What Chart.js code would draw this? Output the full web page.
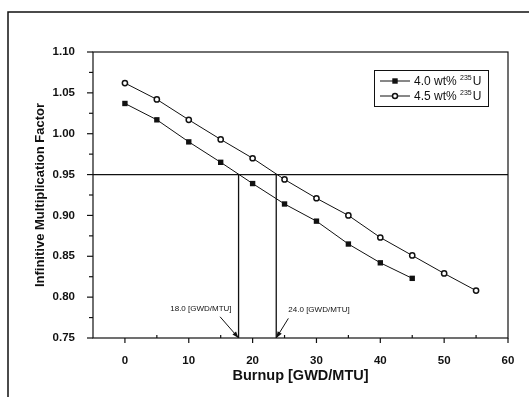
<!DOCTYPE html>
<html>
<head>
<meta charset="utf-8">
<script src="https://cdn.jsdelivr.net/npm/chart.js@4.4.1/dist/chart.umd.min.js"></script>
<style>
html, body { margin: 0; padding: 0; background: #fff; }
</style>
</head>
<body>
<canvas id="graf" width="529" height="397"></canvas>
<script>
let burnup40 = [0, 5, 10, 15, 20, 25, 30, 35, 40, 45]
let kinf40 = [1.037, 1.017, 0.990, 0.965, 0.939, 0.914, 0.893, 0.865, 0.842, 0.823]
let burnup45 = [0, 5, 10, 15, 20, 25, 30, 35, 40, 45, 50, 55]
let kinf45 = [1.062, 1.042, 1.017, 0.993, 0.970, 0.944, 0.921, 0.900, 0.873, 0.851, 0.829, 0.808]
let xTicks = [0, 10, 20, 30, 40, 50, 60]
let yTicks = [0.75, 0.80, 0.85, 0.90, 0.95, 1.00, 1.05, 1.10]
let limiteK = 0.95
let cortes = [17.8, 23.7]
let rotulos = ['18.0 [GWD/MTU]', '24.0 [GWD/MTU]']
let series = ['4.0 wt% ', '4.5 wt% ']

const preto = '#111'
const fonte = 'Arial, "Liberation Sans", sans-serif'

function pontos(xs, ys) {
    return xs.map((x, i) => ({ x: x, y: ys[i] }))
}

// moldura, ticks, setas e legenda desenhados à mão
const extras = {
    id: 'extras',
    afterDraw(chart) {
        const ctx = chart.ctx
        const xs = chart.scales.x
        const ys = chart.scales.y
        const a = chart.chartArea
        ctx.save()
        ctx.strokeStyle = preto
        ctx.fillStyle = preto

        // moldura externa
        ctx.lineWidth = 1.5
        ctx.beginPath()
        ctx.moveTo(8, 397)
        ctx.lineTo(8, 12)
        ctx.lineTo(529, 12)
        ctx.stroke()

        // caixa do gráfico
        ctx.lineWidth = 1.2
        ctx.strokeRect(a.left, a.top, a.right - a.left, a.bottom - a.top)

        // ticks x
        ctx.lineWidth = 1.2
        for (let v = 0; v <= 60; v += 5) {
            const px = xs.getPixelForValue(v)
            ctx.beginPath()
            if (v % 10 === 0) {
                ctx.moveTo(px, a.bottom)
                ctx.lineTo(px, a.bottom + 5)
            } else {
                ctx.moveTo(px, a.bottom)
                ctx.lineTo(px, a.bottom - 3)
            }
            ctx.stroke()
        }
        // ticks y
        for (let i = 0; i <= 14; i++) {
            const v = 0.75 + i * 0.025
            const py = ys.getPixelForValue(v)
            ctx.beginPath()
            ctx.moveTo(a.left, py)
            ctx.lineTo(a.left - (i % 2 === 0 ? 6 : 4), py)
            ctx.stroke()
        }

        // rótulos e setas
        const notas = [
            { tx: 11.9, ty: 0.786, ax: 14.9, ay: 0.776, bx: cortes[0] },
            { tx: 30.4, ty: 0.784, ax: 25.6, ay: 0.774, bx: cortes[1] }
        ]
        ctx.font = '8px ' + fonte
        ctx.textAlign = 'center'
        ctx.textBaseline = 'middle'
        notas.forEach((n, i) => {
            ctx.fillText(rotulos[i], xs.getPixelForValue(n.tx), ys.getPixelForValue(n.ty))
            const x0 = xs.getPixelForValue(n.ax), y0 = ys.getPixelForValue(n.ay)
            const x1 = xs.getPixelForValue(n.bx), y1 = ys.getPixelForValue(0.75)
            ctx.lineWidth = 1
            ctx.beginPath()
            ctx.moveTo(x0, y0)
            ctx.lineTo(x1, y1)
            ctx.stroke()
            const ang = Math.atan2(y1 - y0, x1 - x0)
            ctx.beginPath()
            ctx.moveTo(x1, y1)
            ctx.lineTo(x1 - 7 * Math.cos(ang - 0.35), y1 - 7 * Math.sin(ang - 0.35))
            ctx.lineTo(x1 - 7 * Math.cos(ang + 0.35), y1 - 7 * Math.sin(ang + 0.35))
            ctx.closePath()
            ctx.fill()
        })

        // legenda
        ctx.lineWidth = 1
        ctx.strokeRect(374.5, 70.5, 114, 36)
        const linhas = [81, 96]
        linhas.forEach((ly, i) => {
            ctx.lineWidth = 1
            ctx.beginPath()
            ctx.moveTo(380, ly)
            ctx.lineTo(410, ly)
            ctx.stroke()
            if (i === 0) {
                ctx.fillRect(392.3, ly - 2.7, 5.4, 5.4)
            } else {
                ctx.fillStyle = '#fff'
                ctx.lineWidth = 1.5
                ctx.beginPath()
                ctx.arc(395, ly, 2.5, 0, Math.PI * 2)
                ctx.fill()
                ctx.stroke()
                ctx.fillStyle = preto
            }
            ctx.textAlign = 'left'
            ctx.textBaseline = 'middle'
            ctx.font = '12px ' + fonte
            ctx.fillText(series[i], 414, ly + 1)
            let w = ctx.measureText(series[i]).width
            ctx.font = '7px ' + fonte
            ctx.fillText('235', 414 + w, ly - 3)
            let w2 = ctx.measureText('235').width
            ctx.font = '12px ' + fonte
            ctx.fillText('U', 414 + w + w2 + 1, ly + 1)
        })
        ctx.restore()
    }
}

let ctx = document.getElementById('graf').getContext('2d')

Chart.defaults.color = preto
Chart.defaults.font.family = fonte

const data = {
    datasets: [
        {
            label: '4.0 wt% 235U',
            data: pontos(burnup40, kinf40),
            borderColor: preto,
            borderWidth: 1,
            backgroundColor: preto,
            pointStyle: 'rect',
            pointRadius: 3.8,
            pointBorderWidth: 0,
            pointBackgroundColor: preto
        },
        {
            label: '4.5 wt% 235U',
            data: pontos(burnup45, kinf45),
            borderColor: preto,
            borderWidth: 1,
            pointStyle: 'circle',
            pointRadius: 2.6,
            pointBorderWidth: 1.5,
            pointBackgroundColor: '#fff'
        },
        {
            label: 'limite',
            data: [{ x: -5, y: limiteK }, { x: 60, y: limiteK }],
            borderColor: preto,
            borderWidth: 1.3,
            pointRadius: 0
        },
        {
            label: 'corte1',
            data: [{ x: cortes[0], y: limiteK }, { x: cortes[0], y: 0.75 }],
            borderColor: preto,
            borderWidth: 1.3,
            pointRadius: 0
        },
        {
            label: 'corte2',
            data: [{ x: cortes[1], y: limiteK }, { x: cortes[1], y: 0.75 }],
            borderColor: preto,
            borderWidth: 1.3,
            pointRadius: 0
        }
    ]
}

const config = {
    type: 'line',
    data: data,
    options: {
        responsive: false,
        animation: false,
        devicePixelRatio: 1,
        layout: { padding: { left: 0, top: 52, right: 21, bottom: 0 } },
        plugins: {
            legend: { display: false },
            tooltip: { enabled: false }
        },
        scales: {
            x: {
                type: 'linear',
                min: -5,
                max: 60,
                grid: { display: false },
                border: { display: false },
                afterBuildTicks: s => { s.ticks = xTicks.map(v => ({ value: v })) },
                afterFit: s => { s.height = 59 },
                ticks: {
                    padding: 8,
                    maxRotation: 0,
                    font: { size: 11.5, weight: 'bold' },
                    callback: v => String(v)
                },
                title: {
                    display: true,
                    text: 'Burnup [GWD/MTU]',
                    font: { size: 14.5, weight: 'bold' },
                    padding: { top: 0, bottom: 12 }
                }
            },
            y: {
                min: 0.75,
                max: 1.10,
                grid: { display: false },
                border: { display: false },
                afterBuildTicks: s => { s.ticks = yTicks.map(v => ({ value: v })) },
                afterFit: s => { s.width = 93 },
                ticks: {
                    padding: 10,
                    font: { size: 11.5, weight: 'bold' },
                    callback: v => v.toFixed(2)
                },
                title: {
                    display: true,
                    text: 'Infinitive Multiplication Factor',
                    font: { size: 13, weight: 'bold' },
                    padding: { top: 33, bottom: 0 }
                }
            }
        }
    },
    plugins: [extras]
}

let meuGrafico = new Chart(ctx, config)
</script>
</body>
</html>
